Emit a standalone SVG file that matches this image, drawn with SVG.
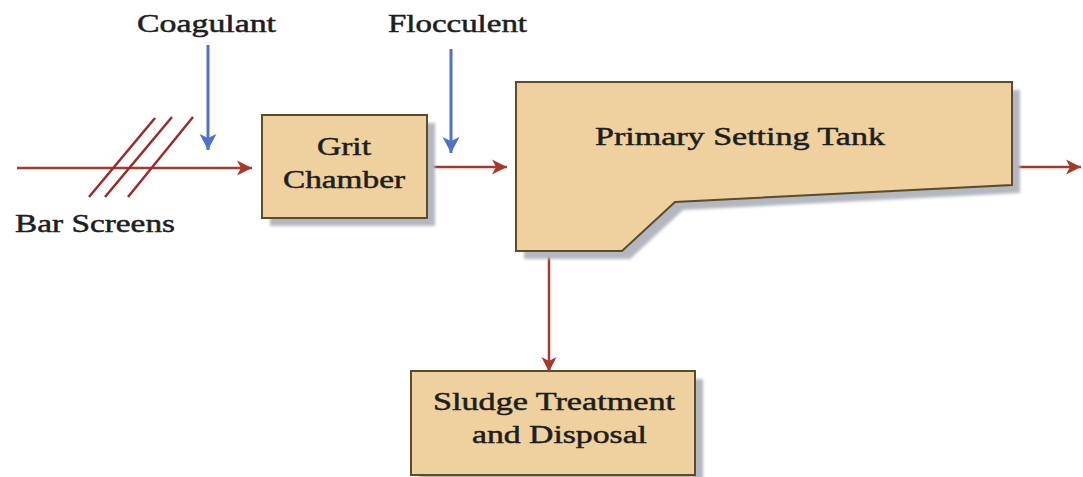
<svg xmlns="http://www.w3.org/2000/svg" width="1083" height="477" viewBox="0 0 1083 477">
  <style>
    .node { fill: #eed19f; stroke: #5b4c2c; stroke-width: 2; }
    .shadow { fill: #b4b7c0; filter: url(#blur); }
    .lbl { font-family: "Liberation Serif", "Times New Roman", serif; font-size: 25px; fill: #1e1e1e; stroke: #1e1e1e; stroke-width: 0.5; }
    .red { stroke: #a53a2c; stroke-width: 2.5; fill: none; }
    .blue { stroke: #4f72c4; stroke-width: 3; fill: none; }
    .screen { stroke: #9a2a2a; stroke-width: 2.5; }
  </style>
  <defs>
    <filter id="blur" x="-5%" y="-5%" width="110%" height="110%">
      <feGaussianBlur stdDeviation="1.5"/>
    </filter>
    <marker id="arrRed" markerUnits="userSpaceOnUse" markerWidth="17" markerHeight="17" refX="16" refY="8.5" orient="auto">
      <path d="M1,1 L16,8.5 L1,16 L5,8.5 Z" fill="#a53a2c"/>
    </marker>
    <marker id="arrBlue" markerUnits="userSpaceOnUse" markerWidth="19" markerHeight="19" refX="17" refY="9.5" orient="auto">
      <path d="M1,1 L17,9.5 L1,18 L5,9.5 Z" fill="#4f72c4"/>
    </marker>
  </defs>
  <rect width="1083" height="477" fill="#ffffff"/>

  <g id="connectors">
    <line class="red" x1="17" y1="168" x2="252" y2="168" marker-end="url(#arrRed)"/>
    <line class="blue" x1="208" y1="45" x2="208" y2="150" marker-end="url(#arrBlue)"/>
    <line class="blue" x1="451" y1="49" x2="451" y2="153" marker-end="url(#arrBlue)"/>
    <line class="red" x1="428" y1="167" x2="507" y2="167" marker-end="url(#arrRed)"/>
    <line class="red" x1="1013" y1="167" x2="1081" y2="167" marker-end="url(#arrRed)"/>
    <line class="red" x1="549" y1="252" x2="549" y2="372" marker-end="url(#arrRed)"/>
  </g>

  <g id="bar-screens">
    <line class="screen" x1="89" y1="197" x2="155" y2="118"/>
    <line class="screen" x1="105" y1="197" x2="172" y2="117"/>
    <line class="screen" x1="128" y1="197" x2="193" y2="117"/>
    <text class="lbl" x="15" y="232" textLength="160" lengthAdjust="spacingAndGlyphs">Bar Screens</text>
  </g>

  <g id="coagulant">
    <text class="lbl" x="137" y="32" textLength="139" lengthAdjust="spacingAndGlyphs">Coagulant</text>
  </g>

  <g id="flocculent">
    <text class="lbl" x="388" y="32" textLength="139" lengthAdjust="spacingAndGlyphs">Flocculent</text>
  </g>

  <g id="grit-chamber">
    <rect class="shadow" x="270" y="123" width="165" height="103"/>
    <rect class="node" x="262" y="115" width="165" height="103"/>
    <text class="lbl" x="317" y="155" font-size="27" textLength="54" lengthAdjust="spacingAndGlyphs">Grit</text>
    <text class="lbl" x="283" y="188" font-size="27" textLength="122" lengthAdjust="spacingAndGlyphs">Chamber</text>
  </g>

  <g id="primary-settling-tank">
    <path class="shadow" d="M524,90 L1020,90 L1020,193 L683,210 L630,259 L524,259 Z"/>
    <path class="node" d="M516,82 L1012,82 L1012,185 L675,202 L622,251 L516,251 Z"/>
    <text class="lbl" x="595" y="145" font-size="28" textLength="290" lengthAdjust="spacingAndGlyphs">Primary Setting Tank</text>
  </g>

  <g id="sludge-treatment">
    <rect class="shadow" x="419" y="379" width="284" height="104"/>
    <rect class="node" x="411" y="371" width="284" height="104"/>
    <text class="lbl" x="433" y="410" font-size="27" textLength="242" lengthAdjust="spacingAndGlyphs">Sludge Treatment</text>
    <text class="lbl" x="472" y="443" font-size="27" textLength="175" lengthAdjust="spacingAndGlyphs">and Disposal</text>
  </g>
</svg>
